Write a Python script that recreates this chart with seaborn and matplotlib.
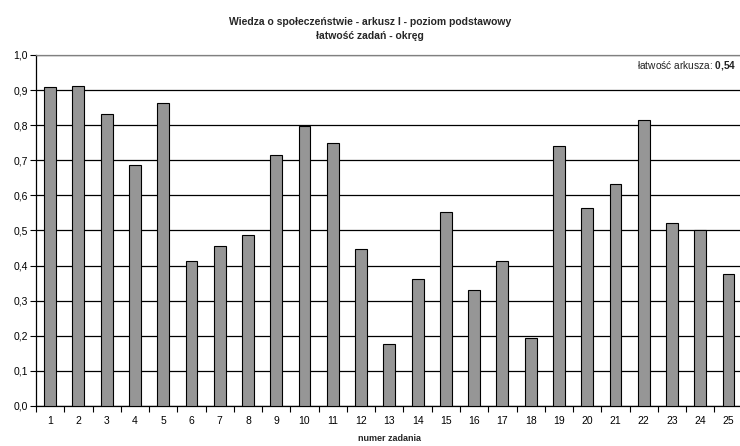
import numpy as np
import pandas as pd
import seaborn as sns
import matplotlib.pyplot as plt
from matplotlib.ticker import FixedLocator, FuncFormatter

# task numbers and easiness values
zadania = [str(i) for i in range(1, 26)]
latwosc = [0.908, 0.912, 0.832, 0.687, 0.862, 0.412, 0.456, 0.487, 0.715, 0.798,
           0.750, 0.446, 0.177, 0.361, 0.552, 0.330, 0.413, 0.194, 0.742, 0.563,
           0.632, 0.814, 0.521, 0.500, 0.377]
latwosc_arkusza = "0,54"

sns.set_theme(style="white")
plt.rcParams['font.family'] = ['Liberation Sans', 'DejaVu Sans']
plt.rcParams['mathtext.fontset'] = 'custom'
plt.rcParams['mathtext.rm'] = 'Liberation Sans'
plt.rcParams['mathtext.bf'] = 'Liberation Sans:bold'

df = pd.DataFrame({"zadanie": zadania, "latwosc": latwosc})

fig = plt.figure(figsize=(7.4, 4.46), dpi=100)
ax = fig.add_axes([0.0486, 0.0897, 0.955, 0.787])

sns.barplot(data=df, x="zadanie", y="latwosc", color="#969696", width=0.42,
            edgecolor="black", linewidth=0.8, saturation=1, ax=ax, zorder=3)

ax.set_ylim(0, 1.0)
ax.set_xlim(-0.5, 24.5)
ax.set_yticks(np.arange(0, 1.01, 0.1))
ax.yaxis.set_major_formatter(FuncFormatter(lambda v, p: f"{v:.1f}".replace(".", ",")))
ax.grid(axis="y", color="black", linewidth=0.9, zorder=0)
ax.set_axisbelow(True)

# tick marks between categories, labels centred
ax.xaxis.set_minor_locator(FixedLocator(np.arange(-0.5, 25, 1)))
ax.tick_params(axis="x", which="major", length=0, labelsize=7.5, pad=7, colors="black")
ax.tick_params(axis="x", which="minor", length=4, width=0.8, color="black", direction="out", bottom=True)
ax.tick_params(axis="y", length=4, width=0.8, direction="out", left=True, labelsize=7.5, pad=2, colors="black")

for s in ["left", "bottom"]:
    ax.spines[s].set_color("black")
    ax.spines[s].set_linewidth(0.9)
ax.spines["top"].set_color("#808080")
ax.spines["top"].set_linewidth(0.9)
ax.spines["right"].set_visible(False)

ax.set_ylabel("")
ax.set_xlabel("numer zadania", fontsize=6.5, fontweight="bold", labelpad=6)

fig.text(0.5, 0.962, "Wiedza o społeczeństwie - arkusz I - poziom podstawowy\nłatwość zadań - okręg",
         ha="center", va="top", fontsize=7.5, fontweight="bold", linespacing=1.45)

# sheet easiness note, value in bold
wart = latwosc_arkusza.replace(",", "{,}")
ax.text(0.991, 0.962, "łatwość arkusza: $\\mathbf{" + wart + "}$", transform=ax.transAxes,
        ha="right", va="baseline", fontsize=7.3, color="#222222")

fig.savefig("out.png", dpi=100)
